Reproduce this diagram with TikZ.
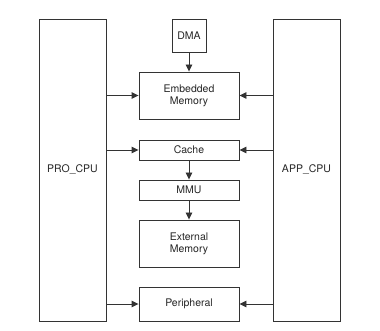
\documentclass[tikz,border=0pt]{standalone}
\usepackage{fontspec}
\setmainfont{TeX Gyre Heros}
\usetikzlibrary{calc,arrows.meta}

\definecolor{lineclr}{HTML}{333333}
\tikzset{
  blk/.style={draw=lineclr, line width=0.9pt, inner sep=0pt, align=center,
    font=\fontsize{10.5}{12}\selectfont, text=black!85},
  conn/.style={draw=lineclr, line width=0.9pt, -{Triangle[length=7pt,width=6.5pt]}}
}

\begin{document}
\begin{tikzpicture}[x=1pt,y=-1pt]
\useasboundingbox (0,0) rectangle (380,331);
% the two cpus
\node[blk, minimum width=67pt, minimum height=302pt] (pro) at (72.5,170) {PRO\_CPU};
\node[blk, minimum width=67pt, minimum height=302pt] (app) at (306.5,170) {APP\_CPU};
% middle column
\node[blk, minimum width=34pt, minimum height=33pt] (dma) at (189,35.5) {DMA};
\node[blk, minimum width=100pt, minimum height=47pt] (emb) at (189,95.5) {Embedded\\Memory};
\node[blk, minimum width=100pt, minimum height=20pt] (cache) at (189,150) {Cache};
\node[blk, minimum width=100pt, minimum height=20pt] (mmu) at (189,190) {MMU};
\node[blk, minimum width=100pt, minimum height=47pt] (ext) at (189,243.5) {External\\Memory};
\node[blk, minimum width=100pt, minimum height=34pt] (per) at (189,304) {Peripheral};
% arrows
\draw[conn] (dma) -- (emb);
\draw[conn] (cache) -- (mmu);
\draw[conn] (mmu) -- (ext);
\foreach \n in {emb,cache,per}{
  \draw[conn] (pro.east |- \n.west) -- (\n.west);
  \draw[conn] (app.west |- \n.east) -- (\n.east);
}
\end{tikzpicture}
\end{document}
